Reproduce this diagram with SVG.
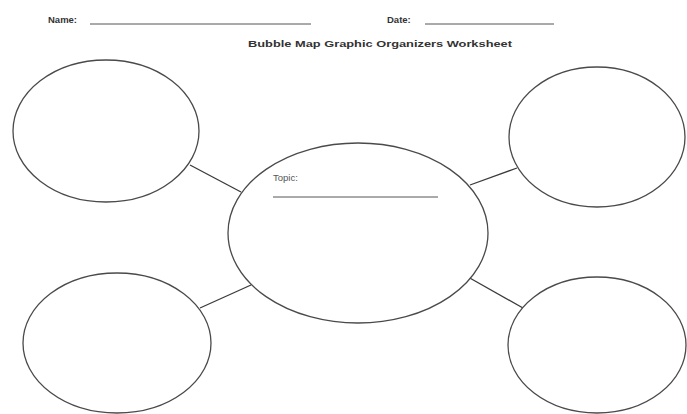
<svg xmlns="http://www.w3.org/2000/svg" width="687" height="414" viewBox="0 0 687 414">
<style>
.b{fill:#fff;stroke:#4a4a4a;stroke-width:1.3}
.c{stroke:#3a3a3a;stroke-width:1.3;fill:none}
.u{stroke:#555;stroke-width:1}
.t{font-family:"Liberation Sans",Arial,sans-serif;font-size:9.5px;font-weight:bold;fill:#333}
.tp{font-family:"Liberation Sans",Arial,sans-serif;font-size:9.5px;fill:#555}
</style>
<rect width="687" height="414" fill="#fff"/>
<g id="header">
<text class="t" x="48" y="23">Name:</text>
<line class="u" x1="90" y1="24" x2="311" y2="24"/>
<text class="t" x="387" y="23">Date:</text>
<line class="u" x1="425" y1="24" x2="554" y2="24"/>
<text class="t" x="248" y="47" textLength="264" lengthAdjust="spacingAndGlyphs">Bubble Map Graphic Organizers Worksheet</text>
</g>
<g id="connectors">
<line class="c" x1="190" y1="165" x2="241" y2="192"/>
<line class="c" x1="517" y1="168" x2="470" y2="185"/>
<line class="c" x1="200" y1="308" x2="251" y2="285"/>
<line class="c" x1="468" y1="277" x2="523" y2="308"/>
</g>
<g id="topic">
<ellipse class="b" cx="358" cy="233" rx="130" ry="90"/>
<text class="tp" x="273" y="181">Topic:</text>
<line class="u" x1="273" y1="197" x2="438" y2="197"/>
</g>
<g id="bubble-tl"><ellipse class="b" cx="106" cy="131" rx="93" ry="71"/></g>
<g id="bubble-tr"><ellipse class="b" cx="597" cy="137" rx="88" ry="70"/></g>
<g id="bubble-bl"><ellipse class="b" cx="117" cy="343" rx="94" ry="70"/></g>
<g id="bubble-br"><ellipse class="b" cx="597" cy="345" rx="89" ry="68"/></g>
</svg>
